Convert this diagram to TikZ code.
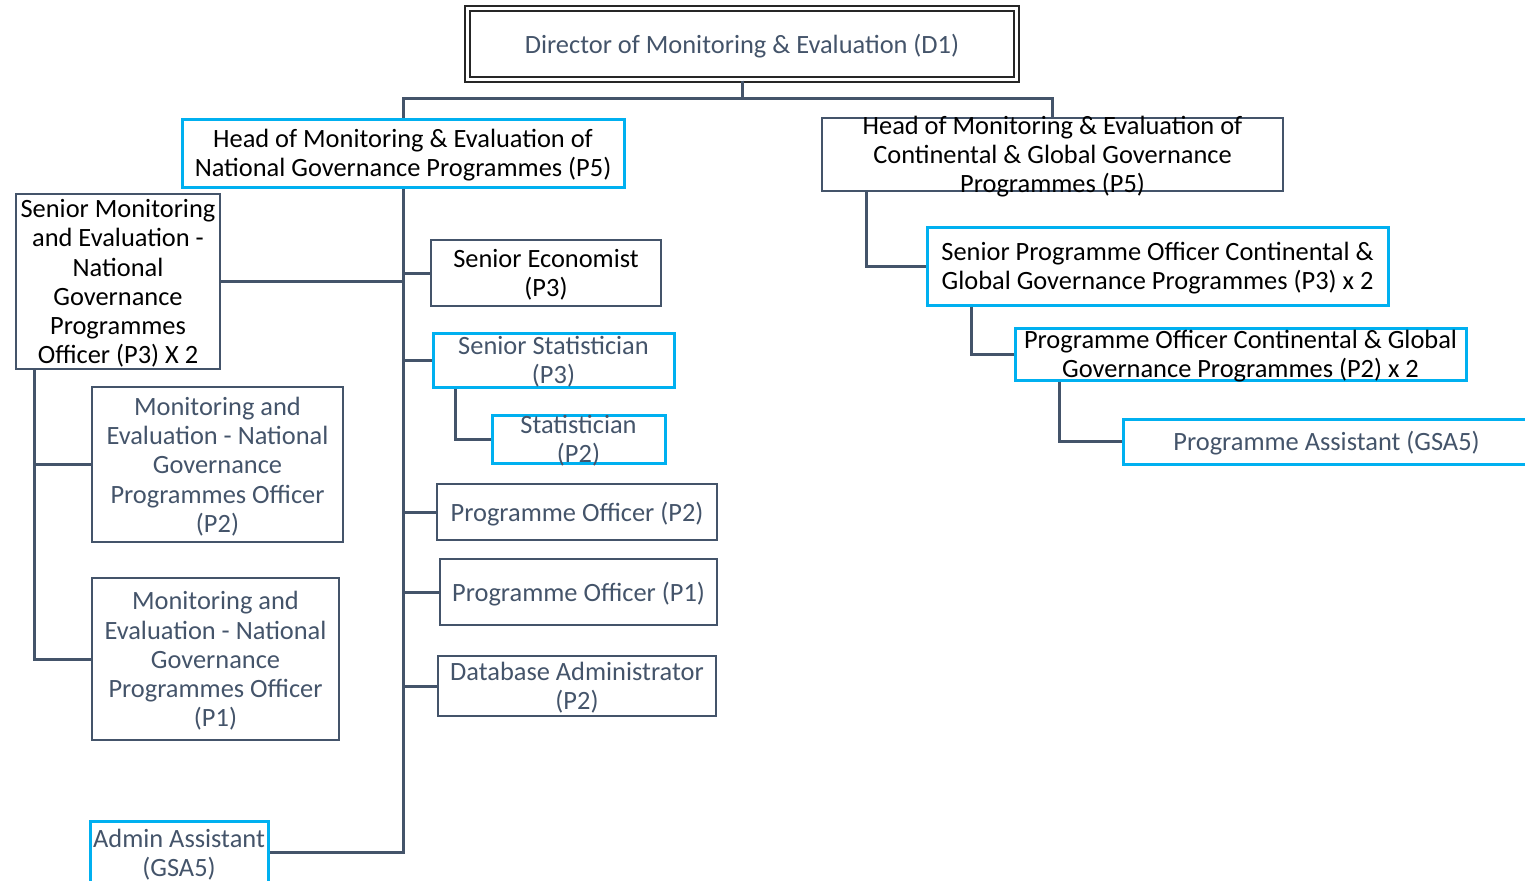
\documentclass[tikz,border=0pt]{standalone}
\usepackage{fontspec}
\setmainfont{Carlito}
\definecolor{slate}{HTML}{44546A}
\definecolor{sky}{HTML}{00B0F0}
\tikzset{
  box/.style={draw=slate, line width=1.4pt, inner sep=0pt},
  bluebox/.style={box, draw=sky, line width=1.5pt},
  wh/.style 2 args={minimum width=#1, minimum height=#2},
  txt/.style={align=center, inner sep=0pt, yshift=-1pt, font=\fontsize{13.2}{14.6}\selectfont},
  greytxt/.style={txt, text=slate},
  link/.style={draw=slate, line width=1.5pt}
}
\begin{document}
\begin{tikzpicture}[x=0.5pt,y=-0.5pt]
	\useasboundingbox (0,0) rectangle (1525,880);

	% boxes
	\node[draw=black!85, line width=1pt, double distance=1.3pt, inner sep=0pt, wh={274.5pt}{35.5pt}] (dir) at (742,44) {};
	\node[bluebox, wh={221pt}{34pt}] (hn) at (403,153) {};
	\node[box, wh={230.5pt}{36.5pt}] (hc) at (1052.5,154.5) {};
	\node[box, wh={102pt}{87.5pt}] (smne) at (118,281.5) {};
	\node[box, wh={115pt}{33pt}] (econ) at (546,273) {};
	\node[bluebox, wh={120.5pt}{27pt}] (sstat) at (553.5,360) {};
	\node[bluebox, wh={86.5pt}{24pt}] (stat) at (578.5,439) {};
	\node[box, wh={140pt}{28pt}] (po2) at (577,512) {};
	\node[box, wh={138.5pt}{33pt}] (po1) at (578.5,592) {};
	\node[box, wh={139pt}{30pt}] (dba) at (577,686) {};
	\node[box, wh={125.5pt}{77.5pt}] (mep2) at (217.5,464.5) {};
	\node[box, wh={123.5pt}{81pt}] (mep1) at (215.5,659) {};
	\node[bluebox, wh={89pt}{31.5pt}] (admin) at (179,852.5) {};
	\node[bluebox, wh={230.5pt}{39pt}] (spoc) at (1157.5,266) {};
	\node[bluebox, wh={225.5pt}{26pt}] (poc) at (1240.5,354) {};
	\node[bluebox, wh={203.5pt}{22.5pt}] (pa) at (1326.5,441.5) {};

	% texts
	\node[greytxt] (dirt) at (dir) {Director of Monitoring \& Evaluation (D1)};
	\node[txt] (hnt) at (hn) {Head of Monitoring \& Evaluation of\\National Governance Programmes (P5)};
	\node[txt] (hct) at (hc) {Head of Monitoring \& Evaluation of\\Continental \& Global Governance\\Programmes (P5)};
	\node[txt] (smnet) at (smne) {Senior Monitoring\\and Evaluation -\\National\\Governance\\Programmes\\Officer (P3) X 2};
	\node[txt] (econt) at (econ) {Senior Economist\\(P3)};
	\node[greytxt] (sstatt) at (sstat) {Senior Statistician\\(P3)};
	\node[greytxt] (statt) at (stat) {Statistician\\(P2)};
	\node[greytxt] (po2t) at (po2) {Programme Officer (P2)};
	\node[greytxt] (po1t) at (po1) {Programme Officer (P1)};
	\node[greytxt] (dbat) at (dba) {Database Administrator\\(P2)};
	\node[greytxt] (mep2t) at (mep2) {Monitoring and\\Evaluation - National\\Governance\\Programmes Officer\\(P2)};
	\node[greytxt] (mep1t) at (mep1) {Monitoring and\\Evaluation - National\\Governance\\Programmes Officer\\(P1)};
	\node[greytxt] (admint) at (admin) {Admin Assistant\\(GSA5)};
	\node[txt] (spoct) at (spoc) {Senior Programme Officer Continental \&\\Global Governance Programmes (P3) x 2};
	\node[txt] (poct) at (poc) {Programme Officer Continental \& Global\\Governance Programmes (P2) x 2};
	\node[greytxt] (pat) at (pa) {Programme Assistant (GSA5)};

	% connectors
	\draw[link] (dir.south) -- ++(0,18) -| (hn.north);
	\draw[link] (dir.south) -- ++(0,18) -| (hc.north);
	\draw[link] (hn.south) |- (admin.east);
	\draw[link] (smne.east) -- (smne.east -| hn.south);
	\draw[link] (econ.west) -- (econ.west -| hn.south);
	\draw[link] (sstat.west) -- (sstat.west -| hn.south);
	\draw[link] (po2.west) -- (po2.west -| hn.south);
	\draw[link] (po1.west) -- (po1.west -| hn.south);
	\draw[link] (dba.west) -- (dba.west -| hn.south);
	\draw[link] ([xshift=12pt]sstat.south west) |- (stat.west);
	\draw[link] ([xshift=10pt]smne.south west) |- (mep1.west);
	\draw[link] (mep2.west) -| ([xshift=10pt]smne.south west);
	\draw[link] ([xshift=23pt]hc.south west) |- (spoc.west);
	\draw[link] ([xshift=23pt]spoc.south west) |- (poc.west);
	\draw[link] ([xshift=23pt]poc.south west) |- (pa.west);
\end{tikzpicture}
\end{document}
